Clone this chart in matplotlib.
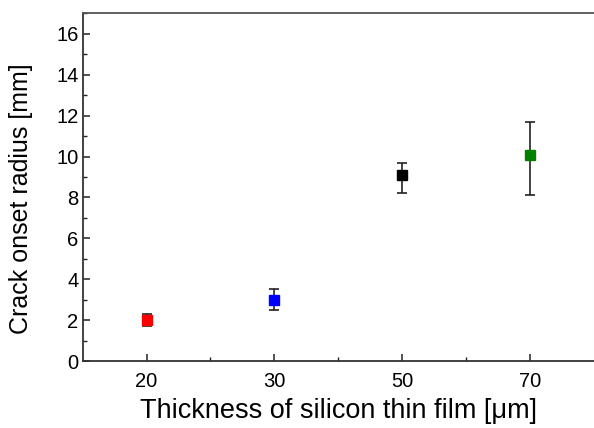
import matplotlib
matplotlib.use("Agg")
import matplotlib.pyplot as plt
from matplotlib.ticker import MultipleLocator, FixedLocator

plt.rcParams['font.family'] = ['Liberation Sans', 'DejaVu Sans']

categories = ["20", "30", "50", "70"]
values = [2.0, 3.0, 9.1, 10.1]
err_low = [0.3, 0.5, 0.9, 2.0]
err_high = [0.3, 0.5, 0.6, 1.6]
colors = ["#ff0000", "#0000ff", "#000000", "#008000"]

fig = plt.figure(figsize=(5.94, 4.28), dpi=100)
ax = fig.add_axes([0.1392, 0.1565, 0.8600, 0.812])

positions = list(range(1, len(categories) + 1))
for x, v, lo, hi, c in zip(positions, values, err_low, err_high, colors):
    ax.errorbar([x], [v], yerr=[[lo], [hi]], fmt='s', color=c, ecolor='#222222',
                elinewidth=1.2, capsize=3.8, capthick=1.2, markersize=7.5,
                markeredgecolor=c, zorder=3)

ax.set_xlim(0.5, 4.5)
ax.set_ylim(0, 17)
ax.set_xticks(positions)
ax.set_xticklabels(categories)
ax.xaxis.set_minor_locator(FixedLocator([1.5, 2.5, 3.5]))
ax.yaxis.set_major_locator(MultipleLocator(2))
ax.yaxis.set_minor_locator(MultipleLocator(1))

ax.tick_params(axis='both', which='major', direction='in', length=5, width=1.1,
               labelsize=14.5, color='#222222', top=False, right=False)
ax.tick_params(axis='x', which='major', pad=8)
ax.tick_params(axis='y', which='major', pad=3)
ax.tick_params(axis='both', which='minor', direction='in', length=3, width=1.0,
               color='#222222', top=False, right=False)

for s in ['left', 'bottom', 'top']:
    ax.spines[s].set_linewidth(1.3)
    ax.spines[s].set_color('#333333')
ax.spines['top'].set_color('#555555')
ax.spines['right'].set_color('#eeeeee')
ax.spines['right'].set_linewidth(0.8)

ax.set_xlabel("Thickness of silicon thin film [\u03bcm]", fontsize=19.5, labelpad=5)
ax.set_ylabel("Crack onset radius [mm]", fontsize=18)
ax.yaxis.set_label_coords(-0.098, 0.466)

fig.savefig("out.png", dpi=100)
